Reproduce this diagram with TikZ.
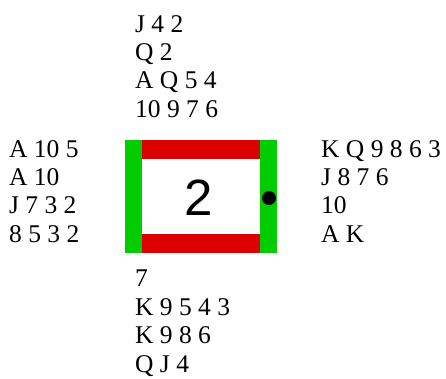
\documentclass[tikz,border=0pt]{standalone}
\usepackage{fontspec}
\setmainfont{Liberation Serif}
\newfontfamily\numfont{Liberation Sans}
\definecolor{barred}{RGB}{221,0,0}
\definecolor{bargreen}{RGB}{0,204,0}
\begin{document}
\begin{tikzpicture}[x=1pt,y=-1pt,
  hand/.style={anchor=north west,inner sep=0pt,align=left,font=\fontsize{25.5}{28.4}\selectfont}]
\useasboundingbox (0,0) rectangle (446,378);
% table
\fill[barred] (142,140) rectangle (260,159);
\fill[barred] (142,234) rectangle (260,253);
\fill[bargreen] (125,140) rectangle (142,253);
\fill[bargreen] (260,140) rectangle (277,253);
\fill[black] (269,198) circle (7);
\node[anchor=base,inner sep=0pt,font=\numfont\fontsize{51}{60}\selectfont] (board) at (199,215) {2};
% hands
\node[hand] (north) at (135,15) {J 4 2\\Q 2\\A Q 5 4\\10 9 7 6};
\node[hand] (west) at (9,140) {A 10 5\\A 10\\J 7 3 2\\8 5 3 2};
\node[hand] (east) at (321,140) {K Q 9 8 6 3\\J 8 7 6\\10\\A K};
\node[hand] (south) at (135,270) {7\\K 9 5 4 3\\K 9 8 6\\Q J 4};
\end{tikzpicture}
\end{document}
